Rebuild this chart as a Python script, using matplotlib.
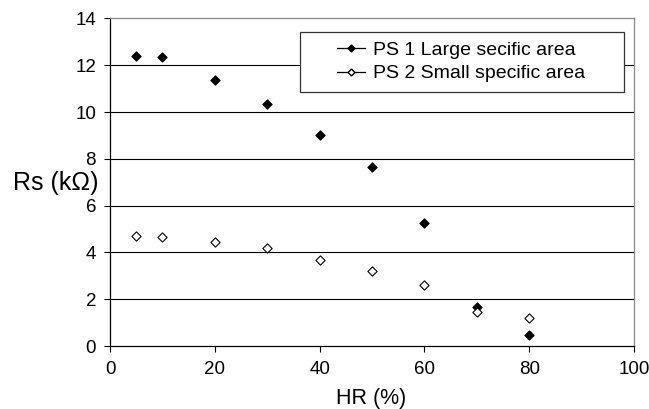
import matplotlib.pyplot as plt
from matplotlib.lines import Line2D
from matplotlib.patches import Rectangle

plt.rcParams['font.family'] = ['Liberation Sans', 'DejaVu Sans']

hr = [5, 10, 20, 30, 40, 50, 60, 70, 80]
ps1_large = [12.41, 12.37, 11.37, 10.35, 9.0, 7.65, 5.25, 1.65, 0.48]
ps2_small = [4.72, 4.67, 4.45, 4.18, 3.69, 3.19, 2.6, 1.46, 1.18]
x_ticks = [0, 20, 40, 60, 80, 100]
y_ticks = [0, 2, 4, 6, 8, 10, 12, 14]
labels = ['PS 1 Large secific area', 'PS 2 Small specific area']

fig = plt.figure(figsize=(6.49, 4.09), dpi=100)
ax = fig.add_axes([0.1695, 0.154, 0.8075, 0.801])

# horizontal grid lines like the Excel original
for y in y_ticks[1:-1]:
    ax.axhline(y, color='black', lw=0.8, zorder=1)

ax.scatter(hr, ps1_large, marker='D', s=22, facecolor='black', edgecolor='black',
           linewidths=0.8, zorder=3)
ax.scatter(hr, ps2_small, marker='D', s=22, facecolor='white', edgecolor='black',
           linewidths=0.8, zorder=3)

ax.set_xlim(0, 100)
ax.set_ylim(0, 14)
ax.set_xticks(x_ticks)
ax.set_yticks(y_ticks)
ax.tick_params(labelsize=13.5, length=4, width=0.8, direction='out')
ax.tick_params(axis='y', pad=6)
ax.tick_params(axis='x', pad=7)
for s in ['top', 'right']:
    ax.spines[s].set_color('#888888')
    ax.spines[s].set_linewidth(0.9)
for s in ['left', 'bottom']:
    ax.spines[s].set_linewidth(0.9)

ax.set_xlabel('HR (%)', fontsize=15.5, va='center')
ax.xaxis.set_label_coords(0.499, -0.159)
ax.set_ylabel('Rs (kΩ)', fontsize=18, rotation=0, va='center', ha='center')
ax.yaxis.set_label_coords(-0.103, 0.498)

# legend box drawn by hand (Excel-style wide padding)
ax.add_patch(Rectangle((0.3626, 0.775), 0.618, 0.183, transform=ax.transAxes,
                       facecolor='white', edgecolor='#333333', lw=0.9, zorder=4))
handles = [
    Line2D([], [], color='black', lw=0.9, marker='D', markersize=3.5,
           markerfacecolor='black', markeredgecolor='black'),
    Line2D([], [], color='black', lw=0.9, marker='D', markersize=3.5,
           markerfacecolor='white', markeredgecolor='black'),
]
leg = ax.legend(handles, labels, loc='upper left', bbox_to_anchor=(0.433, 0.93),
                fontsize=14, frameon=False, borderpad=0, borderaxespad=0,
                handlelength=1.45, labelspacing=0.3, handletextpad=0.4)
leg.set_zorder(5)

fig.savefig('out.png', dpi=100)
